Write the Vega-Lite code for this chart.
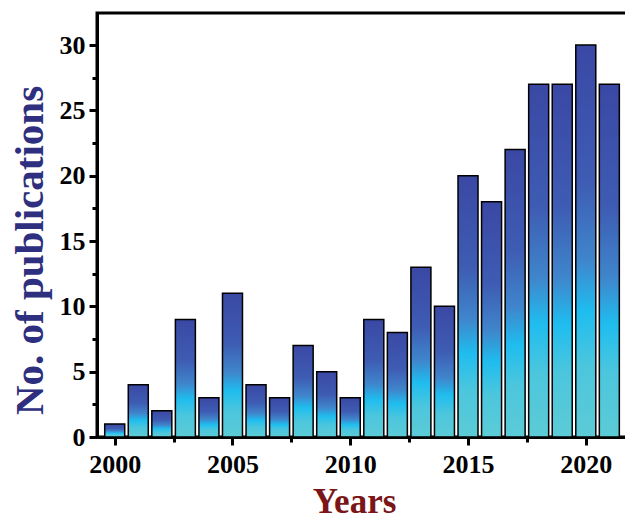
{
  "$schema": "https://vega.github.io/schema/vega-lite/v6.json",
  "width": 535,
  "height": 424,
  "autosize": {"type": "none"},
  "padding": {"left": 97, "top": 13, "right": 0, "bottom": 82},
  "background": "white",
  "config": {
    "view": {"stroke": "black", "strokeWidth": 3},
    "axis": {
      "labelFont": "Liberation Serif",
      "labelFontWeight": "bold",
      "labelFontSize": 26,
      "labelColor": "black",
      "titleFont": "Liberation Serif",
      "titleFontWeight": "bold",
      "domainColor": "black",
      "domainWidth": 3,
      "tickColor": "black",
      "tickWidth": 3,
      "grid": false
    }
  },
  "data": {
    "values": [
      {"year": 2000, "count": 1},
      {"year": 2001, "count": 4},
      {"year": 2002, "count": 2},
      {"year": 2003, "count": 9},
      {"year": 2004, "count": 3},
      {"year": 2005, "count": 11},
      {"year": 2006, "count": 4},
      {"year": 2007, "count": 3},
      {"year": 2008, "count": 7},
      {"year": 2009, "count": 5},
      {"year": 2010, "count": 3},
      {"year": 2011, "count": 9},
      {"year": 2012, "count": 8},
      {"year": 2013, "count": 13},
      {"year": 2014, "count": 10},
      {"year": 2015, "count": 20},
      {"year": 2016, "count": 18},
      {"year": 2017, "count": 22},
      {"year": 2018, "count": 27},
      {"year": 2019, "count": 27},
      {"year": 2020, "count": 30},
      {"year": 2021, "count": 27}
    ]
  },
  "mark": {
    "type": "bar",
    "width": 20,
    "stroke": "black",
    "strokeWidth": 1.5,
    "fill": {
      "gradient": "linear",
      "x1": 0, "y1": 0, "x2": 0, "y2": 1,
      "stops": [
        {"offset": 0, "color": "#3A48A4"},
        {"offset": 0.35, "color": "#3E5CB3"},
        {"offset": 0.55, "color": "#3F86CC"},
        {"offset": 0.68, "color": "#1FBDEF"},
        {"offset": 0.82, "color": "#4CC6DD"},
        {"offset": 1, "color": "#5CCBD6"}
      ]
    }
  },
  "encoding": {
    "x": {
      "field": "year",
      "type": "quantitative",
      "scale": {"domain": [1999.46, 2021.75], "nice": false, "zero": false},
      "axis": {
        "title": "Years",
        "titleColor": "#7A1518",
        "titleFontSize": 35,
        "titleX": 257,
        "titleY": 75,
        "titleBaseline": "alphabetic",
        "titleAlign": "center",
        "values": [2000, 2002.5, 2005, 2007.5, 2010, 2012.5, 2015, 2017.5, 2020],
        "format": "d",
        "labelExpr": "datum.value % 5 === 0 ? datum.label : ''",
        "tickSize": {"condition": {"test": "datum.value % 5 === 0", "value": 8}, "value": 5},
        "labelPadding": 6,
        "labelFlush": false,
        "labelOverlap": false
      }
    },
    "y": {
      "field": "count",
      "type": "quantitative",
      "scale": {"domain": [0, 32.45], "nice": false},
      "axis": {
        "title": "No. of publications",
        "titleColor": "#2E2F7E",
        "titleFontSize": 41,
        "titleAngle": -90,
        "titleX": -55,
        "titleY": 237,
        "titleBaseline": "alphabetic",
        "titleAlign": "center",
        "values": [0, 2.5, 5, 7.5, 10, 12.5, 15, 17.5, 20, 22.5, 25, 27.5, 30],
        "labelExpr": "datum.value % 5 === 0 ? datum.label : ''",
        "tickSize": {"condition": {"test": "datum.value % 5 === 0", "value": 8}, "value": 5},
        "labelPadding": 4,
        "labelFlush": false,
        "labelOverlap": false
      }
    }
  }
}
